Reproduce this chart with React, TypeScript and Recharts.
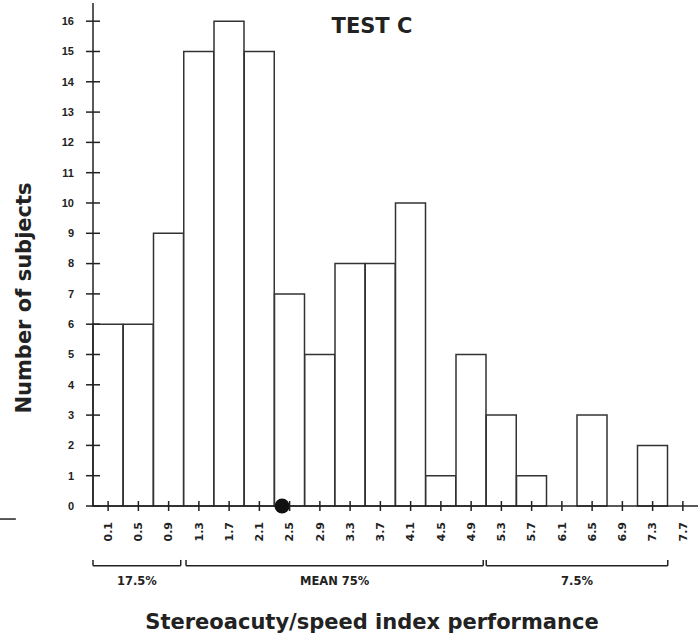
import {
  ComposedChart,
  Bar,
  Scatter,
  XAxis,
  YAxis,
  ReferenceLine,
  ReferenceDot,
} from 'recharts';

// bin centres of the stereoacuty/speed index
const bins = [
  '0.1', '0.5', '0.9', '1.3', '1.7', '2.1', '2.5', '2.9', '3.3', '3.7',
  '4.1', '4.5', '4.9', '5.3', '5.7', '6.1', '6.5', '6.9', '7.3', '7.7',
];
// number of subjects per bin
const subjects = [6, 6, 9, 15, 16, 15, 7, 5, 8, 8, 10, 1, 5, 3, 1, 0, 3, 0, 2, 0];
const countTicks = [0, 1, 2, 3, 4, 5, 6, 7, 8, 9, 10, 11, 12, 13, 14, 15, 16];

// mean marker on the index scale
const meanIndex = [2.4];

// percentage groups under the axis
const groupStart = [-0.1, 1.13, 5.1];
const groupEnd = [1.06, 5.06, 7.5];
const groupLabels = ['17.5%', 'MEAN 75%', '7.5%'];

const rows = bins.map((bin, i) => ({ bin, n: subjects[i] }));
const meanRows = meanIndex.map((pos) => ({ pos, n: 0 }));

const INK = '#222';
const BAR_INK = '#333';
const SANS = '"DejaVu Sans", sans-serif';

// bracket heights, in count units below the axis
const BRACKET_Y = -1.97;
const BRACKET_TIP = -1.78;
const BRACKET_TEXT = -2.48;

const YTick = ({ x, y, payload }: any) => (
  <g>
    <line x1={x - 7} x2={x + 7} y1={y} y2={y} stroke={INK} strokeWidth={1.5} />
    <text
      x={x - 19}
      y={y}
      dy="0.35em"
      textAnchor="end"
      fontFamily='"Liberation Sans", Arial, sans-serif'
      fontWeight="bold"
      fontSize={11}
      fill={INK}
    >
      {payload.value}
    </text>
  </g>
);

const XTick = ({ x, y, payload }: any) => (
  <g>
    <line x1={x} x2={x} y1={y - 5} y2={y + 5} stroke={INK} strokeWidth={1.5} />
    <text
      transform={`translate(${x},${y + 16}) rotate(-90)`}
      textAnchor="end"
      dy="0.35em"
      fontFamily={SANS}
      fontWeight="bold"
      fontSize={11}
      fill={INK}
    >
      {payload.value}
    </text>
  </g>
);

const yTitle = (props: any) => {
  const vb = props.viewBox;
  const cx = vb.x + 24;
  const cy = vb.y + 295;
  return (
    <text
      x={cx}
      y={cy}
      transform={`rotate(-90, ${cx}, ${cy})`}
      textAnchor="middle"
      dominantBaseline="central"
      fontFamily={SANS}
      fontWeight="bold"
      fontSize={21}
      fill={INK}
    >
      Number of subjects
    </text>
  );
};

const xTitle = (props: any) => {
  const vb = props.viewBox;
  return (
    <text
      x={vb.x + 279}
      y={vb.y + 116}
      textAnchor="middle"
      dominantBaseline="central"
      fontFamily={SANS}
      fontWeight="bold"
      fontSize={21}
      fill={INK}
    >
      Stereoacuty/speed index performance
    </text>
  );
};

const MeanDot = (props: any) => (
  <circle cx={props.cx} cy={props.cy} r={7.5} fill="#111" />
);

export default function App() {
  return (
    <div
      style={{
        position: 'absolute',
        left: 0,
        top: 0,
        width: 698,
        height: 636,
        background: '#fff',
      }}
    >
      <div
        style={{
          position: 'absolute',
          left: 272,
          width: 200,
          top: 16,
          textAlign: 'center',
          fontFamily: SANS,
          fontWeight: 'bold',
          fontSize: 21,
          lineHeight: '21px',
          color: INK,
        }}
      >
        TEST C
      </div>
      <ComposedChart
        width={698}
        height={636}
        data={rows}
        barCategoryGap={0}
        barGap={0}
        margin={{ top: 3, right: 0, left: 0, bottom: 70 }}
      >
        <XAxis
          xAxisId="cat"
          dataKey="bin"
          interval={0}
          height={60}
          tickSize={0}
          tickMargin={0}
          tickLine={false}
          tick={<XTick />}
          axisLine={{ stroke: INK, strokeWidth: 1.5 }}
          label={xTitle}
        />
        <XAxis
          xAxisId="num"
          type="number"
          dataKey="pos"
          domain={[-0.1, 7.9]}
          hide
        />
        <YAxis
          type="number"
          domain={[0, 16.6]}
          ticks={countTicks}
          width={93}
          tickSize={0}
          tickMargin={0}
          tickLine={false}
          tick={<YTick />}
          axisLine={{ stroke: INK, strokeWidth: 1.5 }}
          label={yTitle}
        />
        <Bar
          xAxisId="cat"
          dataKey="n"
          fill="#fff"
          stroke={BAR_INK}
          strokeWidth={1.5}
          isAnimationActive={false}
        />
        <Scatter
          xAxisId="num"
          data={meanRows}
          dataKey="n"
          shape={<MeanDot />}
          isAnimationActive={false}
        />
        {groupLabels.map((label, i) => (
          <ReferenceLine
            key={`h${i}`}
            xAxisId="num"
            ifOverflow="visible"
            stroke={INK}
            strokeWidth={1.5}
            segment={[
              { x: groupStart[i], y: BRACKET_Y },
              { x: groupEnd[i], y: BRACKET_Y },
            ]}
          />
        ))}
        {groupLabels.map((label, i) => (
          <ReferenceLine
            key={`a${i}`}
            xAxisId="num"
            ifOverflow="visible"
            stroke={INK}
            strokeWidth={1.5}
            segment={[
              { x: groupStart[i], y: BRACKET_TIP },
              { x: groupStart[i], y: BRACKET_Y },
            ]}
          />
        ))}
        {groupLabels.map((label, i) => (
          <ReferenceLine
            key={`b${i}`}
            xAxisId="num"
            ifOverflow="visible"
            stroke={INK}
            strokeWidth={1.5}
            segment={[
              { x: groupEnd[i], y: BRACKET_TIP },
              { x: groupEnd[i], y: BRACKET_Y },
            ]}
          />
        ))}
        {groupLabels.map((label, i) => (
          <ReferenceDot
            key={`l${i}`}
            xAxisId="num"
            ifOverflow="visible"
            x={(groupStart[i] + groupEnd[i]) / 2}
            y={BRACKET_TEXT}
            r={0}
            fill="none"
            stroke="none"
            label={{
              value: label,
              position: 'center',
              fill: INK,
              fontSize: 11.5,
              fontWeight: 'bold',
              fontFamily: SANS,
            }}
          />
        ))}
        <ReferenceLine
          xAxisId="num"
          ifOverflow="visible"
          stroke={INK}
          strokeWidth={1.5}
          segment={[
            { x: -1.33, y: -0.43 },
            { x: -1.12, y: -0.43 },
          ]}
        />
      </ComposedChart>
    </div>
  );
}
